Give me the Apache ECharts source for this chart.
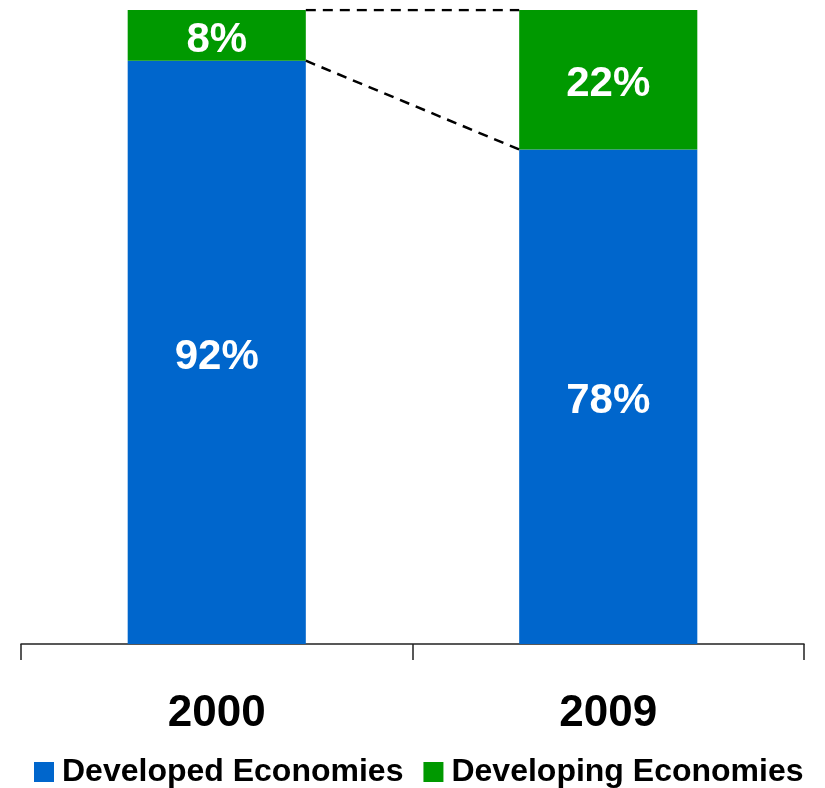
<!DOCTYPE html>
<html><head><meta charset="utf-8">
<script src="https://cdn.jsdelivr.net/npm/echarts@6/dist/echarts.min.js"></script>
<style>html,body{margin:0;padding:0;background:#fff}#c{width:825px;height:788px}</style>
</head><body><div id="c"></div>
<script>
const categories = ['2000', '2009'];
const developed = [92, 78];
const developing = [8, 22];
const seriesNames = ['Developed Economies', 'Developing Economies'];

const barFrac = 0.455;
const left = 0.5 + barFrac / 2, right = 1.5 - barFrac / 2;
const topLine = [[left, developed[0] + developing[0]], [right, developed[1] + developing[1]]];
const splitLine = [[left, developed[0]], [right, developed[1]]];
const FONT = 'Liberation Sans, Arial, sans-serif';

const chart = echarts.init(document.getElementById('c'));
const lbl = {show: true, position: 'inside', offset: [0, 5], color: '#fff', fontWeight: 'bold', fontSize: 42, fontFamily: FONT, formatter: p => p.value + '%'};
chart.setOption({
  animation: false,
  grid: {left: 21, right: 21, top: 10, bottom: 144},
  xAxis: [{
    type: 'category', data: categories,
    axisLine: {lineStyle: {color: '#222', width: 1.5}},
    axisTick: {show: true, length: 16, lineStyle: {color: '#222', width: 1.5}},
    axisLabel: {color: '#000', fontWeight: 'bold', fontSize: 44, fontFamily: FONT, margin: 48}
  }, {
    type: 'value', min: 0, max: 2, show: false
  }],
  yAxis: {type: 'value', min: 0, max: 100, show: false},
  legend: {
    top: 751, left: 29, itemWidth: 20, itemHeight: 20, itemGap: 20, icon: 'rect',
    textStyle: {color: '#000', fontWeight: 'bold', fontSize: 32, fontFamily: FONT, padding: [0, 0, 0, 3]},
    data: seriesNames
  },
  series: [
    {name: seriesNames[0], type: 'bar', stack: 's', data: developed, barWidth: (barFrac * 100) + '%', itemStyle: {color: '#0066CC'}, label: lbl},
    {name: seriesNames[1], type: 'bar', stack: 's', data: developing, barWidth: (barFrac * 100) + '%', itemStyle: {color: '#009900'}, label: lbl},
    {type: 'line', xAxisIndex: 1, data: topLine, symbol: 'none', lineStyle: {color: '#000', width: 2.5, type: [10, 7]}, z: 5},
    {type: 'line', xAxisIndex: 1, data: splitLine, symbol: 'none', lineStyle: {color: '#000', width: 2.5, type: [10, 7]}, z: 5}
  ]
});
</script></body></html>
